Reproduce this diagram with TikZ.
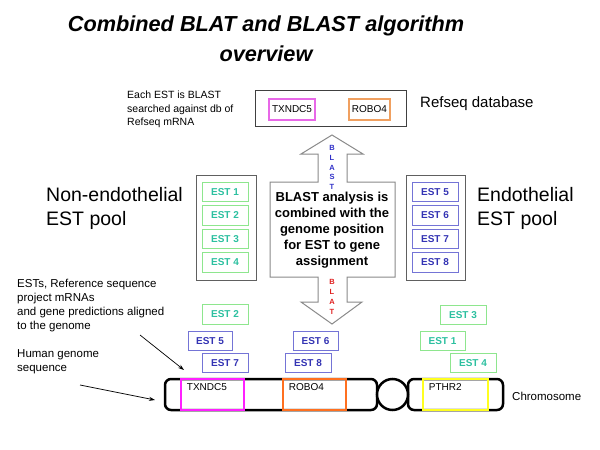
\documentclass[tikz,border=0pt]{standalone}
\usepackage{fontspec}
\setmainfont{Liberation Sans}
\usetikzlibrary{positioning,arrows.meta}

\definecolor{estgreen}{HTML}{8EE68E}
\definecolor{estteal}{HTML}{2CC0A0}
\definecolor{estblue}{HTML}{7474D6}
\definecolor{estbluetext}{HTML}{3434B4}
\definecolor{poolgray}{HTML}{606060}
\definecolor{arrowgray}{HTML}{8A8A8A}
\definecolor{genemagenta}{HTML}{FF20FF}
\definecolor{geneorange}{HTML}{FF7020}
\definecolor{geneyellow}{HTML}{FFFF20}
\definecolor{dbmagenta}{HTML}{E868E8}
\definecolor{dborange}{HTML}{F0A060}
\definecolor{blastblue}{HTML}{3030C8}
\definecolor{blatred}{HTML}{E02020}

\tikzset{
	estg/.style={draw=estgreen, line width=1pt, text=estteal, font=\fontsize{10}{12}\selectfont\bfseries,
		minimum width=46pt, minimum height=19.5pt, inner sep=0pt},
	estb/.style={estg, draw=estblue, text=estbluetext},
	pool/.style={draw=poolgray, line width=0.8pt, minimum width=60pt, minimum height=105pt, inner sep=0pt},
	dbgene/.style={line width=1.2pt, font=\fontsize{10}{12}\selectfont, minimum width=46pt, minimum height=21pt, inner sep=0pt},
	arm/.style={draw, line width=2.5pt, rounded corners=6pt, minimum height=31pt, inner sep=0pt},
	gene/.style={line width=2.5pt, minimum width=63pt, minimum height=31pt, inner sep=0pt},
	genelabel/.style={font=\fontsize{10}{12}\selectfont, anchor=north west, inner sep=0pt, xshift=7pt, yshift=-6pt},
	note/.style={align=left, inner sep=0pt, anchor=west},
	poolname/.style={align=left, inner sep=0pt, anchor=west, font=\fontsize{19.5}{24}\selectfont},
	pointer/.style={line width=0.7pt, -{Stealth[length=6pt, width=4pt]}}
}

\begin{document}
\begin{tikzpicture}[x=1pt, y=-1pt, node distance=3pt]
	\fill[white] (0,0) rectangle (600,450);
	\useasboundingbox (0,0) rectangle (600,450);

	\node (title) [align=center, inner sep=0pt, font=\fontsize{21.7}{30}\selectfont\bfseries\itshape] at (266,39)
		{Combined BLAT and BLAST algorithm\\overview};

	\node (refseq) [draw=black!75, line width=0.8pt, minimum width=151pt, minimum height=36pt] at (330.5,108) {};
	\node (dbtxndc5) [dbgene, draw=dbmagenta] at (292,109.5) {TXNDC5};
	\node (dbrobo4) [dbgene, draw=dborange, minimum width=41pt] at (369.5,109.5) {ROBO4};
	\node (searchnote) [note, font=\fontsize{10.5}{13.5}\selectfont] at (127,109.5)
		{Each EST is BLAST\\searched against db of\\Refseq mRNA};
	\node (refseqname) [note, font=\fontsize{15}{18}\selectfont] at (420,104) {Refseq database};

	\node (nonpool) [pool] at (226,227.5) {};
	\node (est1) [estg] at (225,192) {EST 1};
	\node (est2) [estg, below=of est1] {EST 2};
	\node (est3) [estg, below=of est2] {EST 3};
	\node (est4) [estg, below=of est3] {EST 4};
	\node (nonname) [poolname] at (46,208) {Non-endothelial\\EST pool};

	\node (endopool) [pool, minimum width=59pt] at (435.5,228) {};
	\node (est5) [estb] at (435,192) {EST 5};
	\node (est6) [estb, below=of est5] {EST 6};
	\node (est7) [estb, below=of est6] {EST 7};
	\node (est8) [estb, below=of est7] {EST 8};
	\node (endoname) [poolname] at (477,208) {Endothelial\\EST pool};

	\draw[arrowgray, line width=1pt, fill=white]
		(332,135) -- (363,154) -- (347,154) -- (347,182) -- (395,182) -- (395,277)
		-- (347,277) -- (347,302) -- (362,302) -- (332,324) -- (301,302) -- (318,302)
		-- (318,277) -- (270,277) -- (270,182) -- (318,182) -- (318,154) -- (301,154) -- cycle;
	\node (blastnote) [align=center, inner sep=0pt, font=\fontsize{13}{16}\selectfont\bfseries] at (332,230.5)
		{BLAST analysis is\\combined with the\\genome position\\for EST to gene\\assignment};
	\node (blastword) [align=center, inner sep=0pt, text=blastblue, font=\fontsize{7.5}{9.75}\selectfont\bfseries] at (332,167.5)
		{B\\L\\A\\S\\T};
	\node (blatword) [align=center, inner sep=0pt, text=blatred, font=\fontsize{7.5}{10}\selectfont\bfseries] at (332,297)
		{B\\L\\A\\T};

	\node (alignnote) [note, font=\fontsize{11.5}{14}\selectfont] at (17,306)
		{ESTs, Reference sequence\\project mRNAs\\and gene predictions aligned\\to the genome};
	\node (genomenote) [note, font=\fontsize{11.5}{14}\selectfont] at (17,362) {Human genome\\sequence};

	\node (lest2) [estg] at (225,314.5) {EST 2};
	\node (lest5) [estb, minimum width=44pt] at (210,341) {EST 5};
	\node (lest7) [estb] at (225,363) {EST 7};
	\node (lest6) [estb, minimum width=45pt] at (315.5,341) {EST 6};
	\node (lest8) [estb] at (308,363) {EST 8};
	\node (lest3) [estg] at (463,315) {EST 3};
	\node (lest1) [estg, minimum width=45pt] at (442.5,341) {EST 1};
	\node (lest4) [estg] at (473,363) {EST 4};

	\node (larm) [arm, minimum width=212pt] at (271,394.5) {};
	\node (rarm) [arm, minimum width=95pt] at (455.5,394.5) {};
	\node (centromere) [circle, draw, line width=2.5pt, fill=white, minimum size=31pt, inner sep=0pt] at (392.5,394.5) {};
	\node (txndc5) [gene, draw=genemagenta, label={[genelabel]north west:TXNDC5}] at (212.5,394.5) {};
	\node (robo4) [gene, draw=geneorange, label={[genelabel]north west:ROBO4}] at (314.5,394.5) {};
	\node (pthr2) [gene, draw=geneyellow, minimum width=65pt, label={[genelabel]north west:PTHR2}] at (455.5,394.5) {};
	\node (chromname) [note, font=\fontsize{11.5}{14}\selectfont] at (512,396) {Chromosome};

	\coordinate (alignstart) at (140,335);
	\coordinate (alignend) at (184,370);
	\coordinate (genomestart) at (80,385);
	\coordinate (genomeend) at (155,400);
	\draw[pointer] (alignstart) -- (alignend);
	\draw[pointer] (genomestart) -- (genomeend);
\end{tikzpicture}
\end{document}
